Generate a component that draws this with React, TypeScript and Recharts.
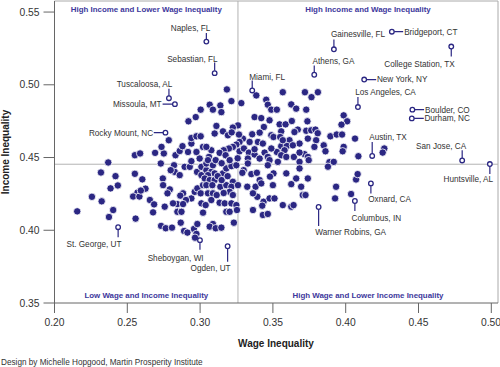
import React from 'react';
import { ScatterChart, Scatter, XAxis, YAxis, ReferenceLine } from 'recharts';

const NAVY = '#2b2783';
const QUAD = '#3d389c';
const FONT = '"Liberation Sans", Arial, Helvetica, sans-serif';

// [wage inequality, income inequality]
const metroPoints: [number, number][] = [
  [0.2156,0.4130],[0.2257,0.4230],[0.2324,0.4199],[0.2319,0.4397],[0.2369,0.4466],[0.2385,0.4288],[0.2403,0.4139],[0.2374,0.4091],[0.2419,0.4372],[0.2435,0.4308],
  [0.2552,0.4516],[0.2588,0.4528],[0.2552,0.4388],[0.2603,0.4350],[0.2570,0.4259],[0.2540,0.4232],[0.2583,0.4232],[0.2557,0.4080],[0.2625,0.4286],[0.2691,0.4532],[0.2655,0.4208],[0.2684,0.4178],[0.2677,0.4123],[0.2593,0.4273],
  [0.2751,0.4528],[0.2735,0.4573],[0.2785,0.4619],[0.2730,0.4459],[0.2744,0.4356],[0.2746,0.4310],[0.2792,0.4281],[0.2776,0.4254],[0.2757,0.4162],[0.2732,0.4030],[0.2764,0.4014],[0.2807,0.4018],
  [0.2821,0.4447],[0.2826,0.4401],[0.2798,0.4413],[0.2860,0.4379],[0.2894,0.4436],[0.2929,0.4436],[0.2940,0.4475],[0.2979,0.4401],[0.3009,0.4379],
  [0.2940,0.4219],[0.2963,0.4264],[0.2981,0.4288],[0.3004,0.4254],[0.3020,0.4310],[0.2883,0.4254],[0.2864,0.4238],[0.2903,0.4208],[0.2844,0.4180],[0.2883,0.4180],[0.2844,0.4127],[0.2872,0.4127],[0.2814,0.4185],[0.3009,0.4185],
  [0.2867,0.4052],[0.2890,0.3995],[0.2913,0.3984],[0.2958,0.4009],[0.2975,0.3975],[0.2965,0.3949],[0.2981,0.4043],
  [0.2831,0.4516],[0.2860,0.4545],[0.2917,0.4538],[0.2975,0.4538],[0.2879,0.4578],[0.2940,0.4596],[0.2940,0.4634],[0.2975,0.4646],[0.3004,0.4646],[0.2970,0.4778],[0.2920,0.4749],[0.3004,0.4829],[0.2997,0.4493],
  [0.3043,0.4322],[0.3020,0.4573],
  [0.3009,0.4436],[0.3043,0.4413],[0.3077,0.4401],[0.3100,0.4391],[0.3054,0.4379],[0.3032,0.4356],[0.3066,0.4345],[0.3100,0.4345],[0.3043,0.4310],[0.3084,0.4310],[0.3054,0.4254],[0.3088,0.4254],[0.3077,0.4208],[0.3038,0.4173],[0.3020,0.4121],
  [0.3157,0.4391],[0.3180,0.4425],[0.3215,0.4441],[0.3249,0.4447],[0.3139,0.4299],[0.3180,0.4310],[0.3225,0.4333],[0.3215,0.4299],[0.3203,0.4264],[0.3225,0.4242],[0.3134,0.4189],[0.3169,0.4185],[0.3215,0.4185],[0.3249,0.4173],[0.3180,0.4127],[0.3203,0.4127],[0.3253,0.4139],[0.3232,0.4052],[0.3088,0.4043],[0.3066,0.4025],[0.3107,0.4014],[0.3146,0.4018],
  [0.3043,0.4459],[0.3260,0.4310],[0.3121,0.4372],[0.3148,0.4345],[0.3189,0.4372],[0.3114,0.4242],[0.3162,0.4256],
  [0.3184,0.4968],[0.3215,0.4888],[0.3283,0.4874],[0.3066,0.4863],[0.3139,0.4858],[0.3088,0.4829],[0.3146,0.4812],[0.3112,0.4717],[0.3260,0.4721],[0.3225,0.4706],[0.3157,0.4680],[0.3191,0.4653],[0.3100,0.4665],
  [0.3294,0.4630],[0.3271,0.4607],[0.3249,0.4589],[0.3225,0.4573],[0.3198,0.4562],[0.3162,0.4550],[0.3134,0.4532],[0.3175,0.4516],[0.3077,0.4550],[0.3043,0.4573],[0.3061,0.4504],[0.3271,0.4543],[0.3301,0.4562],[0.3335,0.4534],[0.3328,0.4493],[0.3054,0.4482],[0.3088,0.4447],[0.3328,0.4459],[0.3107,0.4482],[0.3148,0.4461],[0.3203,0.4482],[0.3258,0.4495],[0.3299,0.4413],
  [0.3217,0.4673],[0.3267,0.4658],
  [0.3386,0.4927],[0.3454,0.4897],[0.3465,0.4863],[0.3489,0.4829],[0.3527,0.4829],[0.3568,0.4949],[0.3626,0.4865],[0.3660,0.4836],[0.3720,0.4949],[0.3765,0.4915],[0.3809,0.4949],[0.3729,0.4829],
  [0.3374,0.4778],[0.3420,0.4771],[0.3477,0.4756],[0.3438,0.4710],[0.3546,0.4728],[0.3587,0.4728],[0.3671,0.4692],[0.3737,0.4749],[0.3630,0.4751],
  [0.3358,0.4660],[0.3409,0.4671],[0.3489,0.4653],[0.3504,0.4641],[0.3557,0.4680],[0.3550,0.4641],[0.3614,0.4619],[0.3648,0.4675],[0.3683,0.4596],[0.3729,0.4684],[0.3763,0.4687],[0.3792,0.4692],[0.3808,0.4667],[0.3740,0.4630],[0.3797,0.4619],[0.3785,0.4573],[0.3849,0.4584],[0.3861,0.4543],
  [0.3340,0.4607],[0.3397,0.4607],[0.3431,0.4596],[0.3557,0.4578],[0.3596,0.4580],[0.3717,0.4523],[0.3374,0.4521],[0.3409,0.4493],[0.3443,0.4534],[0.3465,0.4504],[0.3527,0.4538],[0.3580,0.4550],[0.3557,0.4516],[0.3592,0.4504],[0.3644,0.4504],[0.3683,0.4534],[0.3740,0.4504],[0.3489,0.4562],[0.3374,0.4557],[0.3568,0.4619],[0.3637,0.4584],[0.3477,0.4482],[0.3683,0.4470],[0.3746,0.4482],
  [0.3290,0.4395],[0.3352,0.4386],[0.3390,0.4395],[0.3465,0.4447],[0.3534,0.4470],[0.3592,0.4391],[0.3683,0.4425],[0.3324,0.4299],[0.3381,0.4299],[0.3409,0.4345],[0.3420,0.4322],[0.3504,0.4391],[0.3500,0.4310],[0.3660,0.4356],[0.3626,0.4317],[0.3694,0.4299],[0.3740,0.4356],
  [0.3393,0.4230],[0.3436,0.4196],[0.3477,0.4219],[0.3511,0.4219],[0.3427,0.4169],[0.3363,0.4139],[0.3431,0.4105],[0.3465,0.4112],[0.3568,0.4173],[0.3626,0.4162],[0.3642,0.4173],[0.3705,0.4242],[0.3724,0.4242],[0.3480,0.4369],[0.3363,0.4254],
  [0.3986,0.4790],[0.4010,0.4749],[0.3971,0.4726],[0.3895,0.4646],[0.3938,0.4658],[0.3975,0.4658],[0.4064,0.4630],[0.3986,0.4573],[0.3979,0.4543],[0.4087,0.4509],[0.4265,0.4562],[0.4254,0.4534],[0.3888,0.4468],[0.3918,0.4470],[0.3878,0.4437],[0.3934,0.4299],[0.3927,0.4219],[0.4037,0.4249],[0.4071,0.4349],[0.4082,0.4386],
];

const labeledNames = [
  'Naples, FL', 'Sebastian, FL', 'Tuscaloosa, AL', 'Missoula, MT', 'Rocky Mount, NC', 'Miami, FL',
  'Gainesville, FL', 'Bridgeport, CT', 'College Station, TX', 'Athens, GA', 'New York, NY', 'Los Angeles, CA',
  'Boulder, CO', 'Durham, NC', 'Austin, TX', 'San Jose, CA', 'Huntsville, AL', 'Oxnard, CA', 'Columbus, IN',
  'Warner Robins, GA', 'St. George, UT', 'Sheboygan, WI', 'Ogden, UT',
];
const labeledWage = [
  0.3043, 0.3100, 0.2786, 0.2827, 0.2762, 0.3358, 0.3919, 0.4317, 0.4725, 0.3784, 0.4127, 0.4084,
  0.4458, 0.4454, 0.4182, 0.4800, 0.4990, 0.4173, 0.4063, 0.3814, 0.2437, 0.2999, 0.3189,
];
const labeledIncome = [
  0.5297, 0.5080, 0.4908, 0.4867, 0.4671, 0.4961, 0.5244, 0.5365, 0.5263, 0.5069, 0.5036, 0.4847,
  0.4829, 0.4769, 0.4511, 0.4480, 0.4455, 0.4322, 0.4201, 0.4160, 0.4021, 0.3932, 0.3890,
];

const xTicks = [0.2, 0.25, 0.3, 0.35, 0.4, 0.45, 0.5];
const yTicks = [0.35, 0.4, 0.45, 0.5, 0.55];
const medianWage = 0.326;
const medianIncome = 0.4454;

const quadrantTitles = [
  'High Income and Lower Wage Inequality',
  'High Income and Wage Inequality',
  'Low Wage and Income Inequality',
  'High Wage and Lower Income Inequality',
];

type Lay = { lx: number; ly: number; tx: number; ty: number; anchor: 'start' | 'end' };
const labelLayout: Record<string, Lay> = {
  'Naples, FL': { lx: 0, ly: -8.7, tx: 4, ty: -11, anchor: 'end' },
  'Sebastian, FL': { lx: 0, ly: -10.7, tx: 3, ty: -11.2, anchor: 'end' },
  'Tuscaloosa, AL': { lx: 0, ly: -9.4, tx: 3.4, ty: -11, anchor: 'end' },
  'Missoula, MT': { lx: -12.3, ly: 0, tx: -13.3, ty: 2.9, anchor: 'end' },
  'Rocky Mount, NC': { lx: -11.7, ly: 0, tx: -12.4, ty: 2.9, anchor: 'end' },
  'Miami, FL': { lx: 0, ly: -10, tx: -3, ty: -10.7, anchor: 'start' },
  'Gainesville, FL': { lx: 0, ly: -9.7, tx: -3, ty: -12, anchor: 'start' },
  'Bridgeport, CT': { lx: 11.3, ly: 0, tx: 12.3, ty: 2.9, anchor: 'start' },
  'College Station, TX': { lx: 0, ly: 10, tx: 3.4, ty: 20, anchor: 'end' },
  'Athens, GA': { lx: 0, ly: -9.3, tx: -1.7, ty: -11, anchor: 'start' },
  'New York, NY': { lx: 12, ly: 0, tx: 12.7, ty: 2.9, anchor: 'start' },
  'Los Angeles, CA': { lx: 0, ly: -10, tx: -2.7, ty: -11.7, anchor: 'start' },
  'Boulder, CO': { lx: 11.7, ly: 0, tx: 12.7, ty: 2.9, anchor: 'start' },
  'Durham, NC': { lx: 12, ly: 0, tx: 12.6, ty: 2.9, anchor: 'start' },
  'Austin, TX': { lx: 0, ly: -14, tx: -3, ty: -16.4, anchor: 'start' },
  'San Jose, CA': { lx: 0, ly: -10.3, tx: 4, ty: -11.3, anchor: 'end' },
  'Huntsville, AL': { lx: 0, ly: 10, tx: 3.3, ty: 18.2, anchor: 'end' },
  'Oxnard, CA': { lx: 0, ly: 10, tx: -2.7, ty: 19, anchor: 'start' },
  'Columbus, IN': { lx: 0, ly: 10, tx: -3.4, ty: 19.7, anchor: 'start' },
  'Warner Robins, GA': { lx: 0, ly: 19, tx: -3.3, ty: 28.3, anchor: 'start' },
  'St. George, UT': { lx: 0, ly: 10, tx: 3.4, ty: 20, anchor: 'end' },
  'Sheboygan, WI': { lx: 0, ly: 9.7, tx: 3.7, ty: 20.4, anchor: 'end' },
  'Ogden, UT': { lx: 0, ly: 15.4, tx: 3, ty: 24.4, anchor: 'end' },
};

const mainData = metroPoints.map(([x, y]) => ({ x, y }));
const labeledData = labeledNames.map((name, i) => ({ name, x: labeledWage[i], y: labeledIncome[i] }));

const Dot = (props: any) => {
  const { cx, cy } = props;
  if (cx == null || cy == null) return null;
  return <circle cx={cx} cy={cy} r={3.7} fill={NAVY} stroke="#fff" strokeWidth={0.8} />;
};

const LabeledMark = (props: any) => {
  const { cx, cy, payload } = props;
  if (cx == null || cy == null || !payload) return null;
  const lay = labelLayout[payload.name];
  const r = 2.3;
  const sx = lay.ly === 0 ? Math.sign(lay.lx) * r : 0;
  const sy = lay.ly === 0 ? 0 : Math.sign(lay.ly) * r;
  return (
    <g>
      <line x1={cx + sx} y1={cy + sy} x2={cx + lay.lx} y2={cy + lay.ly} stroke={NAVY} strokeWidth={1.2} />
      <circle cx={cx} cy={cy} r={r} fill="#fff" stroke={NAVY} strokeWidth={1.3} />
      <text x={cx + lay.tx} y={cy + lay.ty} textAnchor={lay.anchor} fontSize={8.2} fill="#333" fontFamily={FONT}>
        {payload.name}
      </text>
    </g>
  );
};

export default function App() {
  const tickStyle = { fontSize: 10.3, fill: '#333', fontFamily: FONT };
  return (
    <div style={{ position: 'absolute', left: 0, top: 0, width: 500, height: 367, background: '#fff' }}>
      <ScatterChart width={500} height={367} margin={{ top: 1, right: 2, left: 0, bottom: 0 }}>
        <XAxis
          type="number"
          dataKey="x"
          domain={[0.2, 0.5046]}
          ticks={xTicks}
          allowDataOverflow
          height={64}
          tickSize={10}
          tickMargin={6}
          tick={tickStyle}
          tickFormatter={(v: number) => v.toFixed(2)}
          axisLine={{ stroke: '#666' }}
          tickLine={{ stroke: '#666' }}
        />
        <YAxis
          type="number"
          dataKey="y"
          domain={[0.35, 0.5576]}
          ticks={yTicks}
          allowDataOverflow
          width={54.5}
          tickSize={11}
          tickMargin={4}
          tick={tickStyle}
          tickFormatter={(v: number) => v.toFixed(2)}
          axisLine={{ stroke: '#666' }}
          tickLine={{ stroke: '#666' }}
        />
        <ReferenceLine y={0.5576} stroke="#aaa" strokeWidth={1} />
        <ReferenceLine x={0.5046} stroke="#aaa" strokeWidth={1} />
        <ReferenceLine x={medianWage} stroke="#b3b3b3" strokeWidth={1} />
        <ReferenceLine y={medianIncome} stroke="#b3b3b3" strokeWidth={1} />
        <Scatter data={mainData} shape={Dot} isAnimationActive={false} />
        <Scatter data={labeledData} shape={LabeledMark} isAnimationActive={false} />
      </ScatterChart>
      <svg width={500} height={367} style={{ position: 'absolute', left: 0, top: 0, pointerEvents: 'none' }}>
        <g fontFamily={FONT} fontWeight="bold" fontSize={7.9} fill={QUAD} textAnchor="middle">
          <text x={146.3} y={12}>{quadrantTitles[0]}</text>
          <text x={368} y={12}>{quadrantTitles[1]}</text>
          <text x={146.3} y={297.5}>{quadrantTitles[2]}</text>
          <text x={368} y={297.5}>{quadrantTitles[3]}</text>
        </g>
        <text x={276} y={346.5} textAnchor="middle" fontFamily={FONT} fontWeight="bold" fontSize={10} fill="#222">
          Wage Inequality
        </text>
        <text
          x={0}
          y={0}
          transform="translate(9,152) rotate(-90)"
          textAnchor="middle"
          fontFamily={FONT}
          fontWeight="bold"
          fontSize={10}
          fill="#222"
        >
          Income Inequality
        </text>
        <text x={1} y={365} fontFamily={FONT} fontSize={8.2} fill="#333">
          Design by Michelle Hopgood, Martin Prosperity Institute
        </text>
      </svg>
    </div>
  );
}
